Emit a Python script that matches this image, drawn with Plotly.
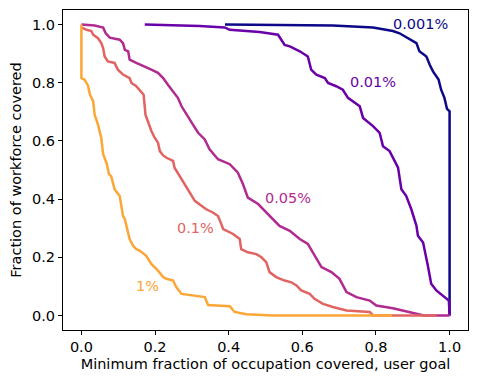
import plotly.graph_objects as go

# (min fraction of occupation covered, fraction of workforce covered)
curve_0001 = [(0.39, 1.0), (0.683, 0.997), (0.792, 0.990), (0.837, 0.982), (0.846, 0.978),
              (0.864, 0.970), (0.887, 0.953), (0.910, 0.936), (0.918, 0.908), (0.937, 0.890),
              (0.946, 0.862), (0.955, 0.839), (0.970, 0.811), (0.977, 0.776), (0.986, 0.748),
              (0.993, 0.710), (1.0, 0.702), (1.0, 0.0)]

curve_001 = [(0.172, 1.0), (0.321, 0.995), (0.389, 0.990), (0.403, 0.982), (0.484, 0.974),
             (0.534, 0.965), (0.552, 0.930), (0.566, 0.925), (0.593, 0.908), (0.615, 0.890),
             (0.624, 0.845), (0.638, 0.828), (0.661, 0.816), (0.670, 0.799), (0.692, 0.788),
             (0.710, 0.776), (0.724, 0.748), (0.756, 0.719), (0.765, 0.679), (0.792, 0.651),
             (0.810, 0.628), (0.819, 0.582), (0.837, 0.565), (0.846, 0.542), (0.860, 0.508),
             (0.869, 0.434), (0.882, 0.411), (0.896, 0.365), (0.910, 0.308), (0.914, 0.274),
             (0.928, 0.251), (0.941, 0.171), (0.950, 0.109), (0.964, 0.086), (0.986, 0.063),
             (0.998, 0.051), (1.0, 0.0)]

curve_005 = [(0.0, 1.0), (0.036, 0.997), (0.059, 0.990), (0.066, 0.970), (0.077, 0.955),
             (0.104, 0.948), (0.113, 0.936), (0.118, 0.913), (0.127, 0.908), (0.131, 0.879),
             (0.149, 0.868), (0.172, 0.856), (0.190, 0.845), (0.208, 0.834), (0.222, 0.816),
             (0.235, 0.793), (0.249, 0.771), (0.262, 0.748), (0.272, 0.719), (0.285, 0.691),
             (0.303, 0.656), (0.317, 0.628), (0.335, 0.605), (0.348, 0.571), (0.371, 0.537),
             (0.403, 0.520), (0.425, 0.491), (0.439, 0.451), (0.452, 0.405), (0.480, 0.383),
             (0.507, 0.348), (0.538, 0.308), (0.566, 0.291), (0.593, 0.263), (0.615, 0.246),
             (0.633, 0.205), (0.652, 0.166), (0.679, 0.149), (0.701, 0.126), (0.720, 0.080),
             (0.747, 0.063), (0.783, 0.051), (0.801, 0.034), (0.846, 0.025), (0.891, 0.012),
             (0.918, 0.004), (0.930, 0.0), (1.0, 0.0)]

curve_01 = [(0.0, 0.99), (0.014, 0.982), (0.027, 0.978), (0.032, 0.965), (0.045, 0.953),
            (0.054, 0.936), (0.059, 0.919), (0.063, 0.890), (0.072, 0.873), (0.090, 0.868),
            (0.099, 0.845), (0.113, 0.828), (0.131, 0.816), (0.136, 0.799), (0.149, 0.788),
            (0.158, 0.776), (0.169, 0.759), (0.174, 0.690), (0.181, 0.662), (0.190, 0.634),
            (0.199, 0.611), (0.208, 0.594), (0.213, 0.565), (0.222, 0.550), (0.231, 0.542),
            (0.249, 0.531), (0.253, 0.508), (0.267, 0.479), (0.281, 0.451), (0.294, 0.423),
            (0.308, 0.394), (0.326, 0.377), (0.339, 0.365), (0.357, 0.354), (0.371, 0.342),
            (0.380, 0.314), (0.385, 0.297), (0.412, 0.280), (0.430, 0.263), (0.434, 0.228),
            (0.452, 0.217), (0.475, 0.211), (0.489, 0.200), (0.502, 0.183), (0.511, 0.149),
            (0.529, 0.132), (0.552, 0.120), (0.570, 0.114), (0.584, 0.103), (0.597, 0.086),
            (0.620, 0.074), (0.633, 0.057), (0.656, 0.040), (0.683, 0.029), (0.720, 0.017),
            (0.783, 0.012), (0.792, 0.0), (0.965, 0.0)]

curve_1 = [(0.0, 1.0), (0.0, 0.816), (0.009, 0.81), (0.018, 0.79), (0.023, 0.76),
           (0.032, 0.736), (0.036, 0.69), (0.045, 0.656), (0.054, 0.61), (0.059, 0.554),
           (0.068, 0.525), (0.075, 0.485), (0.081, 0.479), (0.090, 0.434), (0.104, 0.411),
           (0.113, 0.342), (0.118, 0.331), (0.127, 0.286), (0.131, 0.263), (0.140, 0.240),
           (0.149, 0.228), (0.158, 0.223), (0.176, 0.205), (0.190, 0.177), (0.199, 0.166),
           (0.208, 0.154), (0.222, 0.132), (0.231, 0.126), (0.249, 0.120), (0.258, 0.097),
           (0.272, 0.074), (0.312, 0.068), (0.335, 0.063), (0.344, 0.036), (0.403, 0.032),
           (0.416, 0.012), (0.448, 0.004), (0.52, 0.0), (0.844, 0.0)]

labels = ["0.001%", "0.01%", "0.05%", "0.1%", "1%"]
curves = [curve_0001, curve_001, curve_005, curve_01, curve_1]
colors = ["#0d0887", "#6a00a8", "#b12a90", "#e16462", "#fca636"]
# where the text labels sit (data coords)
label_pos = [(0.921, 1.002), (0.791, 0.804), (0.560, 0.403), (0.310, 0.300), (0.180, 0.102)]

FONT = "DejaVu Sans"
FS = 14.5

fig = go.Figure()
for name, pts, col in zip(labels, curves, colors):
    fig.add_trace(go.Scatter(
        x=[p[0] for p in pts],
        y=[p[1] for p in pts],
        mode="lines",
        line=dict(color=col, width=2.5),
        name=name,
        showlegend=False,
    ))

for name, (lx, ly), col in zip(labels, label_pos, colors):
    fig.add_annotation(x=lx, y=ly, text=name, showarrow=False,
                       font=dict(family=FONT, size=FS, color=col))

axis_style = dict(showline=True, linecolor="black", linewidth=1, mirror=True,
                  ticks="outside", ticklen=4, tickcolor="black", tickwidth=1,
                  showgrid=False, zeroline=False,
                  tickfont=dict(family=FONT, size=FS, color="black"))

fig.update_xaxes(range=[-0.05, 1.05], tickvals=[0, 0.2, 0.4, 0.6, 0.8, 1.0],
                 tickformat=".1f",
                 title=dict(text="Minimum fraction of occupation covered, user goal",
                            font=dict(family=FONT, size=FS, color="black"), standoff=4),
                 **axis_style)
fig.update_yaxes(range=[-0.05, 1.05], tickvals=[0, 0.2, 0.4, 0.6, 0.8, 1.0],
                 tickformat=".1f",
                 title=dict(text="Fraction of workforce covered",
                            font=dict(family=FONT, size=FS, color="black"), standoff=6),
                 **axis_style)

fig.update_layout(width=478, height=386, autosize=False,
                  margin=dict(l=63, r=10, t=10, b=56),
                  plot_bgcolor="white", paper_bgcolor="white",
                  font=dict(family=FONT, size=FS, color="black"))

# page body has a default 8px margin; drop it so the figure sits at the window corner
fig.write_html("out.html", config={"displayModeBar": False},
               post_script="document.body.style.margin='0';")
